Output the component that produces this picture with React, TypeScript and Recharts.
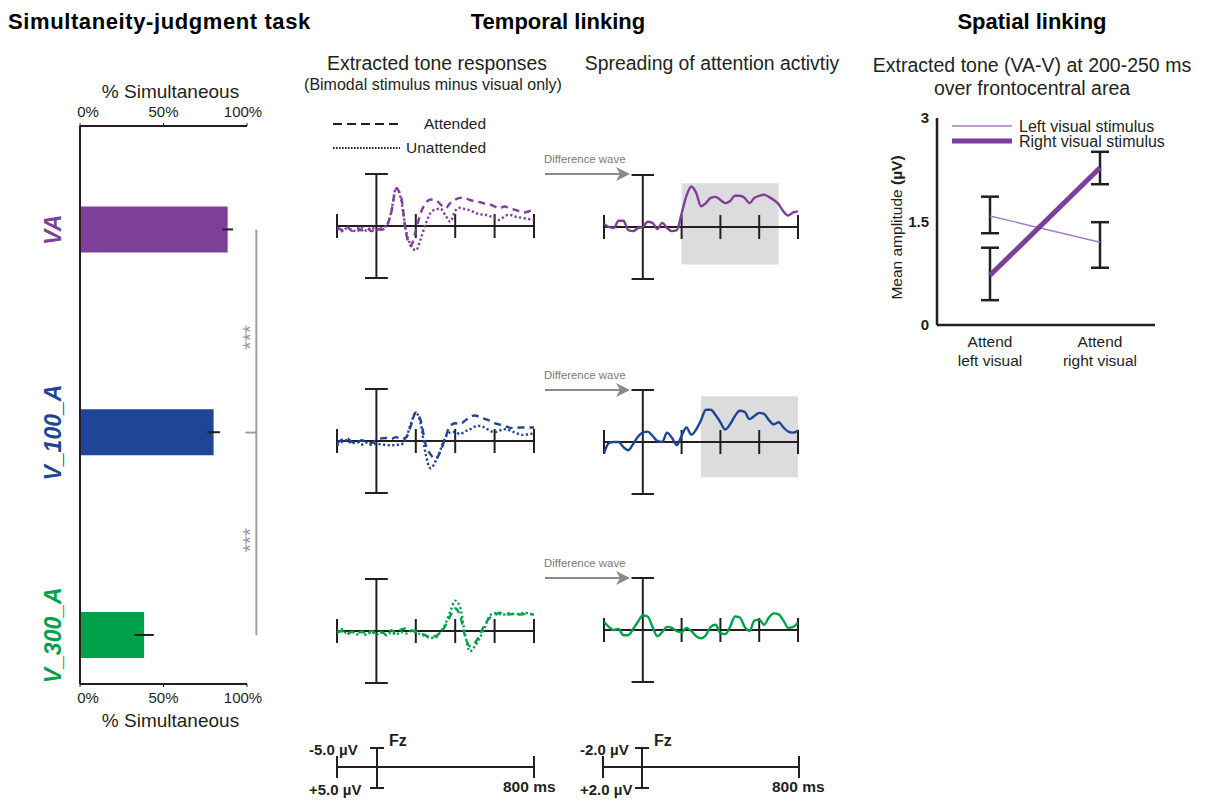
import React from "react";
import {
  BarChart,
  Bar,
  Cell,
  XAxis,
  YAxis,
  ErrorBar,
  ReferenceLine,
  ReferenceDot,
  ReferenceArea,
  LineChart,
  Line,
  Legend,
} from "recharts";

const FONT = "'Liberation Sans', Arial, Helvetica, sans-serif";
const INK = "#231f20";
const GREY = "#a0a0a0";

// ---- Simultaneity-judgment task ----
const conditions = ["VA", "V_100_A", "V_300_A"];
const pctSimultaneous = [88.4, 80.0, 38.4];
const pctSimultaneousSem = [3.2, 3.8, 5.8];
const conditionColors = ["#7e3f98", "#1f4597", "#00a14b"];
const pctTicks = [0, 50, 100];

// ---- Temporal linking: ERPs at Fz (µV, negative plotted up) ----
const erpTimes = [
  -200, -175, -150, -125, -100, -75, -50, -25, 0, 25, 50, 75, 100, 125, 150, 175, 200, 225, 250, 275, 300,
  325, 350, 375, 400, 425, 450, 475, 500, 525, 550, 575, 600, 625, 650, 675, 700, 725, 750, 775, 800,
];
const erpAxisTicks = [-200, 200, 400, 600, 800];

const vaAttended = [
  0.3, 0.9, 0.2, 1.1, 0.4, 1.0, 0.5, 1.2, 0.5, 0.9, 0.2, -3.0, -8.6, -6.8, 1.5, 4.5, 1.0, -3.0, -5.3, -6.1, -6.0,
  -5.0, -4.1, -5.3, -6.1, -6.5, -6.4, -6.0, -5.7, -5.5, -5.2, -5.0, -4.5, -4.1, -4.5, -4.1, -3.8, -3.4, -3.1, -3.4, -3.8,
];
const vaUnattended = [
  0.6, 1.2, 0.5, 0.8, 1.3, 0.4, 1.1, 0.3, 1.0, 0.4, 0.0, -3.2, -8.8, -6.2, 1.0, 4.5, 5.6, 3.0, -0.5, -3.0, -3.8,
  -4.0, -2.5, -1.0, -3.5, -4.2, -3.9, -3.6, -3.1, -2.7, -2.6, -2.3, -1.8, -1.4, -2.2, -2.6, -2.2, -2.0, -1.8, -1.6, -1.4,
];
const v100Attended = [
  0.5, -0.3, -0.6, 0.2, 0.4, -0.2, 0.3, 0.5, -0.3, -0.6, -0.7, -0.5, -0.9, -0.4, -0.8, -3.5, -6.6, -4.7, 0.8, 3.1, 4.1,
  2.4, -0.8, -3.5, -4.1, -3.9, -4.7, -5.6, -5.9, -5.5, -5.1, -4.7, -4.1, -3.8, -3.5, -3.1, -3.0, -3.1, -3.1, -3.1, -3.1,
];
const v100Unattended = [
  1.0, 0.2, -0.2, 0.6, 0.2, 0.8, 0.4, 0.9, 0.6, 0.8, 0.9, 1.0, 0.9, 0.8, -0.5, -4.0, -6.5, -4.0, 3.0, 6.3, 4.7,
  2.0, -0.8, -2.0, -2.1, -1.6, -2.2, -2.7, -3.3, -3.5, -3.1, -2.4, -2.0, -2.4, -2.7, -2.5, -2.0, -1.6, -1.4, -1.6, -1.7,
];
const v300Attended = [
  0.4, 0.0, 0.8, 0.2, 0.6, 0.1, 0.7, 0.0, 0.6, 0.2, 0.8, -0.2, 0.5, -0.3, -0.6, -0.2, 0.1, 0.5, 1.0, 1.4, 1.2,
  0.3, -1.2, -3.5, -5.2, -3.5, 1.2, 3.5, 2.8, 0.8, -1.5, -3.0, -3.6, -4.2, -4.0, -3.8, -4.0, -3.8, -3.9, -4.0, -3.7,
];
const v300Unattended = [
  0.2, -0.4, 0.6, 0.1, 0.8, 0.3, 0.9, 0.2, 0.8, 0.4, 1.0, 0.3, 0.8, 0.2, 0.6, 0.0, 0.3, 0.8, 1.2, 1.6, 1.5,
  0.2, -1.6, -4.5, -7.0, -5.5, 0.8, 4.7, 3.5, 1.6, -0.8, -3.5, -4.1, -3.9, -3.8, -4.1, -3.9, -3.9, -4.2, -4.1, -3.5,
];
const vaDiff = [
  -0.3, 0.0, 0.1, -0.6, -0.6, 0.3, 0.4, 0.1, 0.0, -0.5, -0.4, 0.2, -0.4, 0.1, 0.4, 0.3, -1.3, -3.0, -3.9, -3.3, -2.0,
  -2.3, -2.8, -2.9, -2.6, -2.3, -2.5, -3.0, -3.0, -2.8, -2.3, -2.8, -3.0, -3.1, -2.9, -2.6, -2.2, -1.5, -1.1, -1.4, -1.5,
];
const v100Diff = [
  1.1, 0.1, 0.0, 0.0, 0.5, 0.8, 0.2, -0.5, -0.9, -1.0, -0.6, -0.1, 0.0, -0.9, -0.4, 0.3, -0.6, -1.4, -0.7, -1.2, -2.1,
  -3.1, -3.1, -2.6, -1.9, -1.2, -1.7, -2.5, -3.0, -2.9, -2.2, -2.5, -2.8, -2.7, -2.1, -1.7, -1.9, -1.4, -1.0, -0.9, -1.1,
];
const v300Diff = [
  -0.8, -0.3, 0.0, -0.1, 0.5, 0.5, -0.1, -0.8, -1.4, -1.3, -0.3, 0.6, 0.2, -0.3, -0.2, 0.1, 0.2, -0.2, 0.1, 0.6, 0.8,
  0.5, -0.3, -0.5, 0.3, 0.4, -0.3, -1.3, -1.2, -0.3, 0.1, -0.9, -1.0, -0.5, -1.2, -1.6, -1.5, -0.9, -0.2, -0.3, -0.7,
];
// spreading-of-attention windows: [from ms, to ms, top µV, bottom µV]
const spreadWindows = [[200, 700, -4.2, 3.6], [300, 800, -4.4, 3.4], null];

// ---- Spatial linking ----
const attendSides = ["left visual", "right visual"];
const leftStimAmp = [1.58, 1.2];
const leftStimErr = [[0.25, 0.28], [0.37, 0.29]];
const rightStimAmp = [0.72, 2.28];
const rightStimErr = [[0.36, 0.4], [0.24, 0.23]];
const ampTicks = [0, 1.5, 3];
const stimulusSeries = ["Left visual stimulus", "Right visual stimulus"];
const stimColors = ["#a47cc0", "#7b3f99"];
const stimWidths = [1.4, 5];

const barData = conditions.map((name, i) => ({
  name,
  idx: i,
  value: pctSimultaneous[i],
  err: pctSimultaneousSem[i],
}));

const erpRows = [
  { attended: vaAttended, unattended: vaUnattended, diff: vaDiff },
  { attended: v100Attended, unattended: v100Unattended, diff: v100Diff },
  { attended: v300Attended, unattended: v300Unattended, diff: v300Diff },
].map((r) => erpTimes.map((t, i) => ({ t, att: r.attended[i], un: r.unattended[i], diff: r.diff[i] })));

const spatialData = attendSides.map((side, i) => ({
  side,
  left: leftStimAmp[i],
  leftErr: leftStimErr[i],
  right: rightStimAmp[i],
  rightErr: rightStimErr[i],
}));

const LEFT_BASE = [226, 441, 630.5];
const RIGHT_BASE = [227, 442, 630];

const pctTick = (top: boolean) => (props: any) => {
  const { x, y, payload } = props;
  const shift = payload.value === 0 ? 8 : payload.value === 100 ? -4 : 0;
  return (
    <text x={x + shift} y={y + (top ? -6 : 16)} textAnchor="middle" fontSize={15} fill={INK} fontFamily={FONT}>
      {payload.value}%
    </text>
  );
};

const ConditionTick = (props: any) => {
  const { x, y, payload } = props;
  const i = payload.value;
  return (
    <text
      transform={`translate(${x - 27}, ${y}) rotate(-90)`}
      textAnchor="middle"
      dominantBaseline="central"
      fontSize={23}
      fontWeight="bold"
      fontStyle="italic"
      fill={conditionColors[i]}
      fontFamily={FONT}
    >
      {conditions[i]}
    </text>
  );
};

const Stars = (props: any) => {
  const vb = props.viewBox;
  const cx = vb.x + (vb.width || 0) / 2;
  const cy = vb.y + (vb.height || 0) / 2;
  return (
    <text transform={`translate(${cx}, ${cy}) rotate(-90)`} textAnchor="middle" dominantBaseline="central" fontSize={21} fill="#9a9a9a" fontFamily={FONT}>
      ***
    </text>
  );
};

const axisTitle = (offsetY: number) => (props: any) => {
  const vb = props.viewBox;
  return (
    <text x={vb.x + vb.width / 2 + 7} y={vb.y + offsetY} textAnchor="middle" fontSize={19} fill={INK} fontFamily={FONT}>
      % Simultaneous
    </text>
  );
};

function SimultaneityChart() {
  return (
    <div style={{ position: "absolute", left: 0, top: 60 }}>
      <BarChart layout="vertical" width={300} height={680} data={barData} margin={{ top: 16, right: 53, bottom: 6, left: 20 }}>
        <XAxis
          xAxisId="top"
          orientation="top"
          type="number"
          domain={[0, 100]}
          allowDataOverflow
          ticks={pctTicks}
          height={50}
          tickSize={3}
          tickMargin={0}
          axisLine={{ stroke: INK, strokeWidth: 2 }}
          tickLine={{ stroke: INK }}
          tick={pctTick(true)}
          label={{ content: axisTitle(22) }}
        />
        <XAxis
          xAxisId="bottom"
          orientation="bottom"
          type="number"
          domain={[0, 100]}
          allowDataOverflow
          ticks={pctTicks}
          height={50}
          tickSize={3}
          tickMargin={0}
          axisLine={{ stroke: INK, strokeWidth: 2 }}
          tickLine={{ stroke: INK }}
          tick={pctTick(false)}
          label={{ content: axisTitle(43) }}
        />
        <YAxis
          type="number"
          dataKey="idx"
          domain={[-0.512, 2.24]}
          allowDataOverflow
          ticks={[0, 1, 2]}
          width={60}
          tickSize={0}
          tickMargin={0}
          tickLine={false}
          axisLine={{ stroke: INK, strokeWidth: 2 }}
          tick={ConditionTick}
        />
        <Bar xAxisId="bottom" dataKey="value" barSize={46} isAnimationActive={false}>
          {barData.map((d, i) => (
            <Cell key={d.name} fill={conditionColors[i]} />
          ))}
          <ErrorBar dataKey="err" direction="x" width={0} stroke={INK} strokeWidth={2} />
        </Bar>
        <ReferenceLine xAxisId="bottom" segment={[{ x: 105.6, y: 0 }, { x: 105.6, y: 2 }]} stroke={GREY} strokeWidth={2} ifOverflow="visible" />
        <ReferenceLine xAxisId="bottom" segment={[{ x: 99, y: 1 }, { x: 105.6, y: 1 }]} stroke={GREY} strokeWidth={2} ifOverflow="visible" />
        <ReferenceDot xAxisId="bottom" x={101.5} y={0.53} r={0.1} fill="none" stroke="none" ifOverflow="visible" label={<Stars />} />
        <ReferenceDot xAxisId="bottom" x={101.5} y={1.53} r={0.1} fill="none" stroke="none" ifOverflow="visible" label={<Stars />} />
      </BarChart>
    </div>
  );
}

type PanelProps = {
  x: number;
  baseline: number;
  width: number;
  limit: number;
  data: any[];
  color: string;
  keys: { key: string; dash?: string }[];
  win?: number[] | null;
};

function ErpPanel({ x, baseline, width, limit, data, color, keys, win }: PanelProps) {
  const pad = 14;
  const half = 52;
  const tick = (limit * 12) / half;
  const cap = 58;
  const seg = { stroke: INK, strokeWidth: 2, ifOverflow: "visible" as const };
  return (
    <div style={{ position: "absolute", left: x - pad, top: baseline - half - pad }}>
      <LineChart width={width + pad * 2} height={half * 2 + pad * 2} data={data} margin={{ top: pad, right: pad, bottom: pad, left: pad }}>
        <XAxis type="number" dataKey="t" domain={[-200, 800]} allowDataOverflow hide />
        <YAxis type="number" domain={[-limit, limit]} allowDataOverflow reversed hide />
        {win && <ReferenceArea x1={win[0]} x2={win[1]} y1={win[2]} y2={win[3]} fill="#dcdcde" fillOpacity={1} stroke="none" ifOverflow="visible" />}
        <ReferenceLine y={0} stroke={INK} strokeWidth={2} />
        <ReferenceLine x={0} stroke={INK} strokeWidth={2} />
        <ReferenceLine segment={[{ x: -cap, y: -limit }, { x: cap, y: -limit }]} {...seg} />
        <ReferenceLine segment={[{ x: -cap, y: limit }, { x: cap, y: limit }]} {...seg} />
        {erpAxisTicks.map((t) => (
          <ReferenceLine key={t} segment={[{ x: t, y: -tick }, { x: t, y: tick }]} {...seg} />
        ))}
        {keys.map((k) => (
          <Line
            key={k.key}
            dataKey={k.key}
            type="monotone"
            stroke={color}
            strokeWidth={2.4}
            strokeDasharray={k.dash}
            dot={false}
            isAnimationActive={false}
          />
        ))}
      </LineChart>
    </div>
  );
}

const AttendTick = (props: any) => {
  const { x, y, payload } = props;
  return (
    <text x={x} y={y} textAnchor="middle" fontSize={15.5} fill={INK} fontFamily={FONT}>
      <tspan x={x} dy={22}>Attend</tspan>
      <tspan x={x} dy={19}>{payload.value}</tspan>
    </text>
  );
};

function SpatialChart() {
  return (
    <div style={{ position: "absolute", left: 870, top: 100 }}>
      <LineChart width={310} height={280} data={spatialData} margin={{ top: 18, right: 25, bottom: 15, left: 30 }}>
        <XAxis
          dataKey="side"
          type="category"
          height={40}
          padding={{ left: 53, right: 55 }}
          tickSize={0}
          tickMargin={0}
          tickLine={false}
          axisLine={{ stroke: INK, strokeWidth: 2.5 }}
          tick={AttendTick}
        />
        <YAxis
          type="number"
          domain={[0, 3]}
          ticks={ampTicks}
          width={37}
          tickSize={0}
          tickMargin={8}
          tickLine={false}
          axisLine={{ stroke: INK, strokeWidth: 2.5 }}
          tick={{ fill: INK, fontSize: 15, fontWeight: "bold", fontFamily: FONT }}
          label={{
            content: (p: any) => (
              <text
                transform={`translate(${p.viewBox.x - 4}, ${p.viewBox.y + p.viewBox.height / 2 + 6}) rotate(-90)`}
                textAnchor="middle"
                dominantBaseline="central"
                fontSize={15.5}
                fill={INK}
                fontFamily={FONT}
              >
                Mean amplitude <tspan fontWeight="bold">(µV)</tspan>
              </text>
            ),
          }}
        />
        <Legend
          layout="vertical"
          align="center"
          verticalAlign="middle"
          wrapperStyle={{ left: 82, top: 16, width: 230, height: 34 }}
          content={() => (
            <svg width={230} height={34} style={{ display: "block" }}>
              {stimulusSeries.map((name, i) => (
                <g key={name}>
                  <line x1={0} x2={60} y1={10 + i * 15} y2={10 + i * 15} stroke={stimColors[i]} strokeWidth={stimWidths[i]} />
                  <text x={67} y={10 + i * 15} dominantBaseline="central" fontSize={16} fill={INK} fontFamily={FONT}>
                    {name}
                  </text>
                </g>
              ))}
            </svg>
          )}
        />
        <Line dataKey="left" name={stimulusSeries[0]} stroke={stimColors[0]} strokeWidth={stimWidths[0]} dot={false} isAnimationActive={false}>
          <ErrorBar dataKey="leftErr" width={9} stroke={INK} strokeWidth={2.5} />
        </Line>
        <Line dataKey="right" name={stimulusSeries[1]} stroke={stimColors[1]} strokeWidth={stimWidths[1]} dot={false} isAnimationActive={false}>
          <ErrorBar dataKey="rightErr" width={9} stroke={INK} strokeWidth={2.5} />
        </Line>
      </LineChart>
    </div>
  );
}

function Arrow({ y }: { y: number }) {
  return (
    <g>
      <text x={544} y={y - 11} fontSize={11.4} fill="#7a7a7a" fontFamily={FONT}>
        Difference wave
      </text>
      <line x1={545} x2={622} y1={y} y2={y} stroke="#8a8a8a" strokeWidth={2} />
      <path d={`M630,${y} L616,${y - 7} L620,${y} L616,${y + 7} Z`} fill="#8a8a8a" />
    </g>
  );
}

function ScaleBar({ x0, x1, xv, top, bottom, xLabel, endX }: { x0: number; x1: number; xv: number; top: string; bottom: string; xLabel: number; endX: number }) {
  const y = 767;
  return (
    <g stroke={INK} strokeWidth={2}>
      <line x1={x0} x2={x1} y1={y} y2={y} />
      <line x1={x0} x2={x0} y1={756} y2={778} />
      <line x1={x1} x2={x1} y1={756} y2={778} />
      <line x1={xv} x2={xv} y1={748} y2={788} />
      <line x1={xv - 7} x2={xv + 7} y1={748} y2={748} />
      <line x1={xv - 7} x2={xv + 7} y1={788} y2={788} />
      <g stroke="none" fill={INK} fontFamily={FONT} fontWeight="bold">
        <text x={xLabel} y={755} fontSize={15}>{top}</text>
        <text x={xLabel} y={795} fontSize={15}>{bottom}</text>
        <text x={xv + 12} y={746} fontSize={16}>Fz</text>
        <text x={endX} y={792} fontSize={15.5}>800 ms</text>
      </g>
    </g>
  );
}

export default function App() {
  return (
    <div style={{ position: "absolute", left: 0, top: 0, width: 1215, height: 801, background: "#fff", fontFamily: FONT, overflow: "hidden" }}>
      <SimultaneityChart />
      {erpRows.map((data, i) => (
        <React.Fragment key={i}>
          <ErpPanel
            x={337}
            baseline={LEFT_BASE[i]}
            width={197}
            limit={12}
            data={data}
            color={conditionColors[i]}
            keys={[{ key: "att", dash: "7 5" }, { key: "un", dash: "2.2 2.4" }]}
          />
          <ErpPanel
            x={604}
            baseline={RIGHT_BASE[i]}
            width={194}
            limit={5}
            data={data}
            color={conditionColors[i]}
            keys={[{ key: "diff" }]}
            win={spreadWindows[i]}
          />
        </React.Fragment>
      ))}
      <SpatialChart />
      <svg width={1215} height={801} style={{ position: "absolute", left: 0, top: 0, pointerEvents: "none" }}>
        <g fontFamily={FONT} fill="#000" fontWeight="bold" fontSize={22}>
          <text x={8} y={29} letterSpacing={0.6}>Simultaneity-judgment task</text>
          <text x={558} y={29} textAnchor="middle">Temporal linking</text>
          <text x={1032} y={29} textAnchor="middle">Spatial linking</text>
        </g>
        <g fontFamily={FONT} fill={INK} textAnchor="middle">
          <text x={437} y={70} fontSize={19.4}>Extracted tone responses</text>
          <text x={433} y={90} fontSize={16}>(Bimodal stimulus minus visual only)</text>
          <text x={712} y={70} fontSize={19.4}>Spreading of attention activtiy</text>
          <text x={1032} y={72} fontSize={19.5}>Extracted tone (VA-V) at 200-250 ms</text>
          <text x={1032} y={95} fontSize={19.5}>over frontocentral area</text>
        </g>
        <line x1={333} x2={398} y1={124} y2={124} stroke={INK} strokeWidth={2.2} strokeDasharray="9 5" />
        <line x1={333} x2={400} y1={148} y2={148} stroke={INK} strokeWidth={2.2} strokeDasharray="1.6 1.4" />
        <text x={424} y={129} fontSize={15.5} fill={INK} fontFamily={FONT}>Attended</text>
        <text x={406} y={153} fontSize={15.5} fill={INK} fontFamily={FONT}>Unattended</text>
        <Arrow y={174} />
        <Arrow y={390} />
        <Arrow y={578} />
        <ScaleBar x0={337} x1={534} xv={377} top="-5.0 µV" bottom="+5.0 µV" xLabel={309} endX={503} />
        <ScaleBar x0={603} x1={799} xv={642} top="-2.0 µV" bottom="+2.0 µV" xLabel={580} endX={772} />
      </svg>
    </div>
  );
}
